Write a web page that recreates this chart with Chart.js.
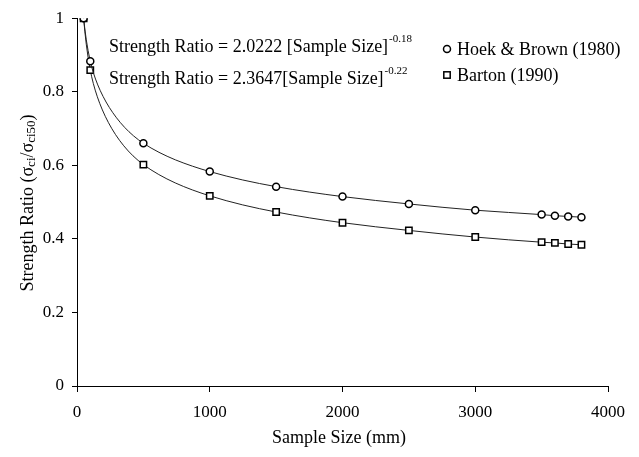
<!DOCTYPE html>
<html>
<head>
<meta charset="utf-8">
<script src="https://cdn.jsdelivr.net/npm/chart.js@4"></script>
<style>
  html, body { margin: 0; padding: 0; background: #fff; }
  #wrap { width: 639px; height: 457px; position: relative; }
</style>
</head>
<body>
<div id="wrap"><canvas id="chart"></canvas></div>
<script>
const sampleSize = [50, 100, 500, 1000, 1500, 2000, 2500, 3000, 3500, 3600, 3700, 3800];
const hoekBrown = [1.0, 0.883, 0.66, 0.583, 0.542, 0.515, 0.495, 0.478, 0.466, 0.463, 0.461, 0.459];
const barton = [1.0, 0.859, 0.602, 0.517, 0.473, 0.444, 0.423, 0.405, 0.391, 0.389, 0.386, 0.384];
const xTicks = [0, 1000, 2000, 3000, 4000];
const yTicks = [0, 0.2, 0.4, 0.6, 0.8, 1];
const seriesNames = ['Hoek & Brown (1980)', 'Barton (1990)'];
const equations = [
  { text: 'Strength Ratio = 2.0222 [Sample Size]', exp: '-0.18' },
  { text: 'Strength Ratio = 2.3647[Sample Size]', exp: '-0.22' },
];

const SERIF = "'Liberation Serif', 'Times New Roman', serif";
Chart.defaults.font.family = SERIF;
Chart.defaults.color = '#000';

const toPoints = (ys) => sampleSize.map((x, i) => ({ x, y: ys[i] }));

// smooth the fitted curves: tangents taken from log-log slopes of the data,
// control points placed along them at a third of each chord
const smoothCurves = {
  id: 'smoothCurves',
  beforeDatasetsDraw(chart) {
    const xs = chart.scales.x, ys = chart.scales.y;
    const kx = (xs.getPixelForValue(1000) - xs.getPixelForValue(0)) / 1000;
    const ky = ys.getPixelForValue(1) - ys.getPixelForValue(0);
    chart.data.datasets.forEach((ds, di) => {
      const meta = chart.getDatasetMeta(di);
      meta.dataset.updateControlPoints(chart.chartArea, 'x');
      const pts = meta.data;
      const d = ds.data;
      const n = pts.length;
      const seg = [];
      for (let i = 0; i < n - 1; i++) {
        seg.push((Math.log(d[i + 1].y) - Math.log(d[i].y)) / (Math.log(d[i + 1].x) - Math.log(d[i].x)));
      }
      const tan = pts.map((p, i) => {
        const s = i === 0 ? seg[0] : i === n - 1 ? seg[n - 2] : (seg[i - 1] + seg[i]) / 2;
        const dydx = s * d[i].y / d[i].x;
        const tx = kx, ty = dydx * ky;
        const len = Math.hypot(tx, ty);
        return [tx / len, ty / len];
      });
      for (let i = 0; i < n - 1; i++) {
        const a = pts[i], b = pts[i + 1];
        const L = Math.hypot(b.x - a.x, b.y - a.y) / 3;
        a.cp2x = a.x + tan[i][0] * L;
        a.cp2y = a.y + tan[i][1] * L;
        b.cp1x = b.x - tan[i + 1][0] * L;
        b.cp1y = b.y - tan[i + 1][1] * L;
      }
    });
  },
};

// text that Chart.js has no place for: fit equations, legend, axis titles
const annotations = {
  id: 'annotations',
  afterDraw(chart) {
    const ctx = chart.ctx;
    ctx.save();
    ctx.fillStyle = '#000';
    ctx.textBaseline = 'alphabetic';
    ctx.textAlign = 'left';

    // equations
    const eqY = [52, 84];
    equations.forEach((eq, i) => {
      ctx.font = `18px ${SERIF}`;
      ctx.fillText(eq.text, 109, eqY[i]);
      const w = ctx.measureText(eq.text).width;
      ctx.font = `11px ${SERIF}`;
      ctx.fillText(eq.exp, 109 + w + 1, eqY[i] - 10);
    });

    // legend
    const legY = [49, 75];
    ctx.lineWidth = 1.5;
    ctx.strokeStyle = '#000';
    ctx.fillStyle = '#fff';
    ctx.beginPath();
    ctx.arc(447, legY[0], 3.5, 0, Math.PI * 2);
    ctx.fill(); ctx.stroke();
    ctx.fillRect(443.8, legY[1] - 3.2, 6.4, 6.4);
    ctx.strokeRect(443.8, legY[1] - 3.2, 6.4, 6.4);
    ctx.fillStyle = '#000';
    ctx.font = `18px ${SERIF}`;
    ctx.textBaseline = 'middle';
    seriesNames.forEach((name, i) => ctx.fillText(name, 457, legY[i] + 1));

    // x title
    ctx.font = `18px ${SERIF}`;
    ctx.textAlign = 'center';
    ctx.fillText('Sample Size (mm)', 339, 438);

    // y title with subscripts
    const parts = [
      { t: 'Strength Ratio (\u03c3', sub: false },
      { t: 'ci', sub: true },
      { t: '/\u03c3', sub: false },
      { t: 'ci50', sub: true },
      { t: ')', sub: false },
    ];
    const fontFor = (p) => (p.sub ? `13px ${SERIF}` : `18px ${SERIF}`);
    let total = 0;
    parts.forEach((p) => { ctx.font = fontFor(p); p.w = ctx.measureText(p.t).width; total += p.w; });
    ctx.translate(28, 203);
    ctx.rotate(-Math.PI / 2);
    ctx.textAlign = 'left';
    ctx.textBaseline = 'middle';
    let x = -total / 2;
    parts.forEach((p) => {
      ctx.font = fontFor(p);
      ctx.fillText(p.t, x, p.sub ? 4 : 0);
      x += p.w;
    });
    ctx.restore();
  },
};

const seriesStyle = {
  borderColor: '#222',
  borderWidth: 1,
  tension: 0.4,
  pointBorderWidth: 1.5,
  pointBackgroundColor: '#fff',
  pointBorderColor: '#000',
};

new Chart(document.getElementById('chart'), {
  type: 'line',
  data: {
    datasets: [
      { label: seriesNames[0], data: toPoints(hoekBrown), pointStyle: 'circle', pointRadius: 3.5, ...seriesStyle },
      { label: seriesNames[1], data: toPoints(barton), pointStyle: 'rect', pointRadius: 4.5, ...seriesStyle },
    ],
  },
  options: {
    responsive: true,
    maintainAspectRatio: false,
    animation: false,
    events: [],
    layout: { padding: { top: 17, right: 31, left: 0, bottom: 0 } },
    plugins: { legend: { display: false }, tooltip: { enabled: false } },
    scales: {
      x: {
        type: 'linear',
        min: 0,
        max: 4000,
        afterBuildTicks: (s) => { s.ticks = xTicks.map((v) => ({ value: v })); },
        afterFit: (s) => { s.height = 71; },
        ticks: { font: { size: 17 }, color: '#000', padding: 10, maxRotation: 0, callback: (v) => String(v) },
        grid: { drawOnChartArea: false, drawTicks: true, tickLength: 6, color: '#000' },
        border: { color: '#000', width: 1 },
      },
      y: {
        min: 0,
        max: 1,
        afterBuildTicks: (s) => { s.ticks = yTicks.map((v) => ({ value: v })); },
        afterFit: (s) => { s.width = 77; },
        ticks: { font: { size: 17 }, color: '#000', padding: 8, callback: (v) => String(+v.toFixed(1)) },
        grid: { drawOnChartArea: false, drawTicks: true, tickLength: 5, color: '#000' },
        border: { color: '#000', width: 1 },
      },
    },
  },
  plugins: [smoothCurves, annotations],
});
</script>
</body>
</html>
